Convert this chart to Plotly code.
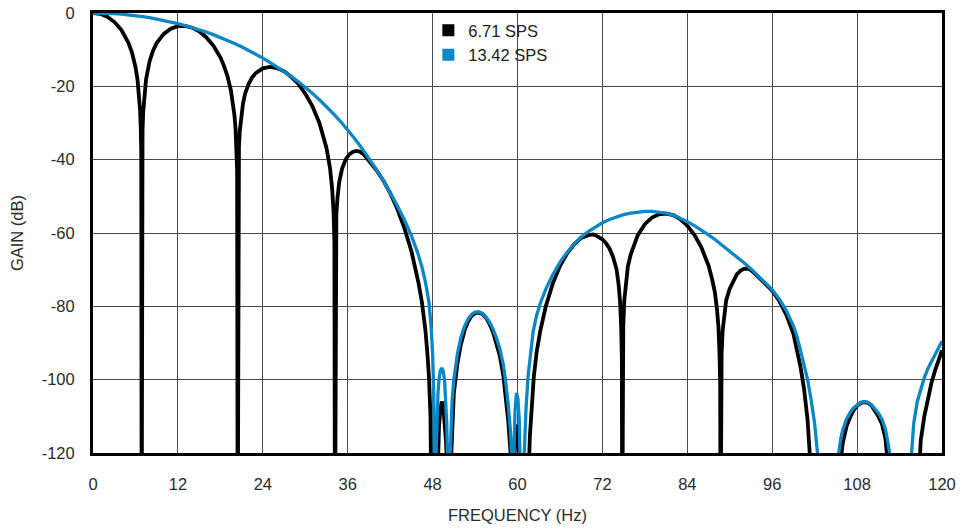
import plotly.graph_objects as go

# frequency response (Hz, dB)
black_name = "6.71 SPS"
black_freq = [
    0, 1, 2, 3, 4, 5, 5.5, 6, 6.3, 6.5, 6.65, 6.75, 6.82, 6.88, 6.94, 7.0, 7.1, 7.25, 7.5,
    8, 8.5, 9, 10, 11, 12, 13, 14, 15, 16, 17, 18, 18.5, 19, 19.5, 19.8, 20.0, 20.15, 20.27,
    20.37, 20.45, 20.53, 20.63, 20.75, 20.95, 21.2, 21.5, 22, 22.5, 23, 24, 25, 26, 27, 28,
    29, 30, 31, 32, 32.5, 33, 33.5, 33.8, 34.0, 34.12, 34.2, 34.28, 34.4, 34.55, 34.8, 35.2,
    35.7, 36.2, 36.7, 37.2, 37.7, 38.2, 39, 40, 41, 42, 43, 44, 45, 46, 46.5, 47, 47.3, 47.5,
    47.7, 47.8, 47.9, 48.6, 48.75, 48.9, 49.1, 49.3, 49.5, 49.7, 49.9, 50.0, 50.2, 50.5,
    50.7, 51.0, 51.5, 52, 52.5, 53, 53.5, 54, 54.5, 55, 55.5, 56, 56.5, 57, 57.5, 58, 58.3,
    58.7, 59.0, 59.2, 59.45, 59.55, 59.75, 59.95, 60.15, 60.3, 61.4, 61.5, 61.6, 61.75, 62,
    62.3, 62.7, 63.2, 64, 65, 66, 67, 68, 69, 70, 70.7, 71, 72, 72.5, 73, 73.5, 74, 74.3,
    74.5, 74.65, 74.75, 74.8, 74.85, 74.95, 75.1, 75.3, 75.6, 76, 76.5, 77, 78, 79, 80, 81,
    82, 83, 84, 85, 86, 86.5, 87, 87.5, 87.9, 88.2, 88.4, 88.55, 88.65, 88.7, 88.75, 88.85,
    89.0, 89.2, 89.5, 90, 90.5, 91, 91.5, 92, 92.5, 93, 94, 95, 96, 97, 98, 99, 100, 100.5,
    101, 101.3, 101.6, 105.5, 105.8, 106, 106.5, 107, 107.5, 108, 108.5, 109, 109.5, 110,
    110.5, 111, 111.5, 112, 112.25, 112.5, 116.5, 116.8, 117, 117.5, 118, 118.5, 119, 119.5,
    120,
]
black_gain = [
    0, -0.22, -1.0, -2.4, -4.6, -8.1, -10.7, -14.7, -18.3, -22.0, -26.4, -31.4, -38.1, -150,
    -39, -32.2, -26.9, -22.4, -18.1, -13.15, -10.2, -8.2, -5.7, -4.3, -3.6, -3.53, -4.0,
    -5.0, -6.6, -8.9, -12.1, -14.35, -17.2, -21.2, -24.7, -28.0, -31.6, -36.0, -43.0, -150,
    -43.5, -36.5, -32.1, -27.8, -24.7, -22.0, -19.3, -17.55, -16.4, -15.1, -14.7, -15.0,
    -15.9, -17.35, -19.3, -22.0, -25.4, -30.0, -33.0, -36.8, -42.3, -47.9, -54.3, -62.4,
    -150, -62.8, -54.9, -50.5, -46.1, -42.5, -40.0, -38.6, -37.9, -37.6, -37.8, -38.4,
    -40.2, -42.7, -45.6, -49.1, -53.4, -58.6, -64.9, -73.5, -79.0, -86.8, -93.8, -99.8,
    -110, -119, -150, -135, -120, -113, -108, -106, -107, -111, -117, -122, -140, -127,
    -114.5, -103.7, -95.7, -90.4, -86.7, -84.2, -82.6, -81.9, -81.7, -82.0, -83.0, -84.6,
    -86.8, -89.8, -93.5, -98.9, -103.5, -111.5, -119.5, -135, -125, -117, -112.3, -114,
    -121, -135, -150, -131.8, -123.8, -115.4, -105.8, -99.3, -92.6, -86.9, -80.0, -73.7,
    -69.0, -65.6, -63.1, -61.35, -60.6, -60.4, -60.6, -61.7, -62.75, -64.2, -66.5, -69.9,
    -74.2, -78.7, -85.5, -94, -150, -93.9, -85.3, -78.3, -73.7, -69.1, -65.9, -62.85,
    -60.6, -57.6, -55.8, -54.9, -54.7, -55.1, -56.2, -58.0, -60.5, -64.0, -66.15, -68.9,
    -72.55, -76.2, -80.9, -85.6, -92.7, -101.3, -150, -101.4, -92.9, -86.5, -82.3, -78.3,
    -75.2, -73.0, -71.3, -70.3, -69.8, -69.7, -70.1, -71.9, -73.7, -75.7, -78.5, -82.3,
    -87.5, -96.5, -102.5, -111, -120, -140, -140, -120, -117, -112.8, -110.3, -108.4,
    -107.1, -106.4, -106.1, -106.3, -107, -108.3, -110, -112, -116, -121, -140, -135, -120,
    -116.5, -110, -105, -101, -97.6, -94.6, -92,
]

blue_name = "13.42 SPS"
blue_freq = [
    0, 1, 2, 3, 4, 5, 6, 7, 8, 9, 10, 11, 12, 13, 14, 15, 16, 17, 18, 19, 20, 21, 22, 23,
    24, 25, 26, 27, 28, 29, 30, 31, 32, 33, 34, 35, 36, 37, 38, 39, 40, 41, 42, 43, 44, 45,
    46, 46.5, 47, 47.5, 47.8, 48.0, 48.15, 48.25, 48.35, 48.5, 48.6, 48.75, 48.9, 49.1,
    49.3, 49.5, 49.7, 49.85, 50.0, 50.1, 50.3, 50.5, 50.6, 50.75, 51.0, 51.25, 51.5, 52,
    52.5, 53, 53.5, 54, 54.5, 55, 55.5, 56, 56.5, 57, 57.5, 58, 58.3, 58.7, 59.0, 59.2,
    59.35, 59.5, 59.65, 59.85, 60.05, 60.25, 60.42, 60.55, 60.8, 61.0, 61.2, 61.5, 61.8,
    62.2, 62.7, 63.2, 64, 65, 66, 67, 68, 69, 70, 71, 72, 73, 74, 75, 76, 77, 78, 79, 80,
    81, 82, 83, 84, 85, 86, 87, 88, 89, 90, 91, 92, 93, 94, 95, 96, 97, 98, 99, 99.5, 100,
    100.5, 101, 101.5, 102, 102.4, 102.8, 105.0, 105.4, 105.7, 106, 106.5, 107, 107.5, 108,
    108.5, 109, 109.5, 110, 110.5, 111, 111.5, 112, 112.3, 112.6, 113, 115.3, 115.7, 116,
    116.5, 117, 117.5, 118, 118.5, 119, 119.5, 120,
]
blue_gain = [
    0, -0.02, -0.08, -0.18, -0.32, -0.5, -0.72, -0.98, -1.28, -1.63, -2.01, -2.44, -2.9,
    -3.41, -3.96, -4.55, -5.2, -5.9, -6.65, -7.45, -8.3, -9.2, -10.15, -11.2, -12.3, -13.45,
    -14.65, -15.9, -17.25, -18.7, -20.25, -21.9, -23.65, -25.5, -27.5, -29.6, -31.9, -34.3,
    -36.9, -39.6, -42.5, -45.6, -48.9, -52.5, -56.4, -60.7, -66, -69.3, -73.5, -79, -86,
    -93, -103, -115, -140, -120, -111, -104, -100, -97.5, -96.8, -97.6, -100.5, -105, -112,
    -120, -140, -120, -113, -106, -100, -96, -93, -88.5, -85.5, -83.5, -82.2, -81.6, -81.5,
    -81.9, -82.8, -84.2, -86, -88.5, -91.5, -96, -100, -107, -114, -122, -140, -120, -108.5,
    -103.6, -105, -111, -122, -140, -128, -118, -108, -99, -93, -87, -82.5, -79.3, -75.3,
    -71.3, -68, -65.3, -63, -61.1, -59.6, -58.3, -57.2, -56.3, -55.6, -55, -54.6, -54.3,
    -54.1, -54.1, -54.3, -54.6, -55.1, -55.9, -56.9, -58.0, -59.2, -60.5, -61.9, -63.4,
    -64.9, -66.5, -68.1, -69.8, -71.6, -73.5, -75.5, -78.0, -81.2, -85.3, -88.2, -92, -95.8,
    -100, -105.5, -112, -120, -135, -135, -120, -116, -113.5, -110.8, -109, -107.7, -106.8,
    -106.2, -106, -106.2, -106.8, -107.8, -109.1, -110.8, -113.5, -116.5, -120, -135, -135,
    -120, -112, -106, -102.5, -99.5, -97, -95, -93, -91.2, -89.5,
]

x_ticks = [0, 12, 24, 36, 48, 60, 72, 84, 96, 108, 120]
y_ticks = [0, -20, -40, -60, -80, -100, -120]
y_tick_labels = ["0", "-20", "-40", "-60", "-80", "-100", "-120"]

FONT = "Liberation Sans, Arial, sans-serif"
TEXT = "#2b2b2b"
BLACK = "#000000"
BLUE = "#0a87c4"

fig = go.Figure()
fig.add_trace(go.Scatter(
    x=black_freq, y=black_gain, mode="lines",
    line=dict(color=BLACK, width=3.8), showlegend=False,
))
fig.add_trace(go.Scatter(
    x=blue_freq, y=blue_gain, mode="lines",
    line=dict(color=BLUE, width=3.3), showlegend=False,
))
# legend entries drawn as filled squares like the original
for name, color in [(black_name, BLACK), (blue_name, BLUE)]:
    fig.add_trace(go.Scatter(
        x=[None], y=[None], mode="markers", name=name,
        marker=dict(symbol="square", size=12, color=color),
    ))

axis_common = dict(
    showline=True, linecolor="black", linewidth=3, mirror=True,
    showgrid=True, gridcolor="#4a4a4a", gridwidth=1,
    zeroline=False, ticks="", automargin=False,
    tickfont=dict(family=FONT, size=16.5, color=TEXT),
)
fig.update_xaxes(
    range=[0, 120], tickvals=x_ticks, ticklabelstandoff=14,
    title=dict(text="FREQUENCY (Hz)", font=dict(family=FONT, size=16.5, color=TEXT), standoff=18),
    **axis_common,
)
fig.update_yaxes(
    range=[-120, 0], tickvals=y_ticks, ticktext=y_tick_labels, ticklabelstandoff=12,
    title=dict(text="GAIN (dB)", font=dict(family=FONT, size=16.5, color=TEXT), standoff=14),
    **axis_common,
)
fig.update_layout(
    width=962, height=528,
    margin=dict(l=93, r=20, t=13, b=75),
    paper_bgcolor="white", plot_bgcolor="white",
    font=dict(family=FONT, size=16.5, color=TEXT),
    legend=dict(
        x=0.395, y=1.0, xanchor="left", yanchor="top",
        bgcolor="rgba(0,0,0,0)", font=dict(family=FONT, size=16.5, color="#222222"),
        itemwidth=30, tracegroupgap=0,
    ),
)

fig.write_html(
    "out.html",
    config={"displayModeBar": False},
    post_script="document.body.style.margin='0';document.body.style.overflow='hidden';",
)
